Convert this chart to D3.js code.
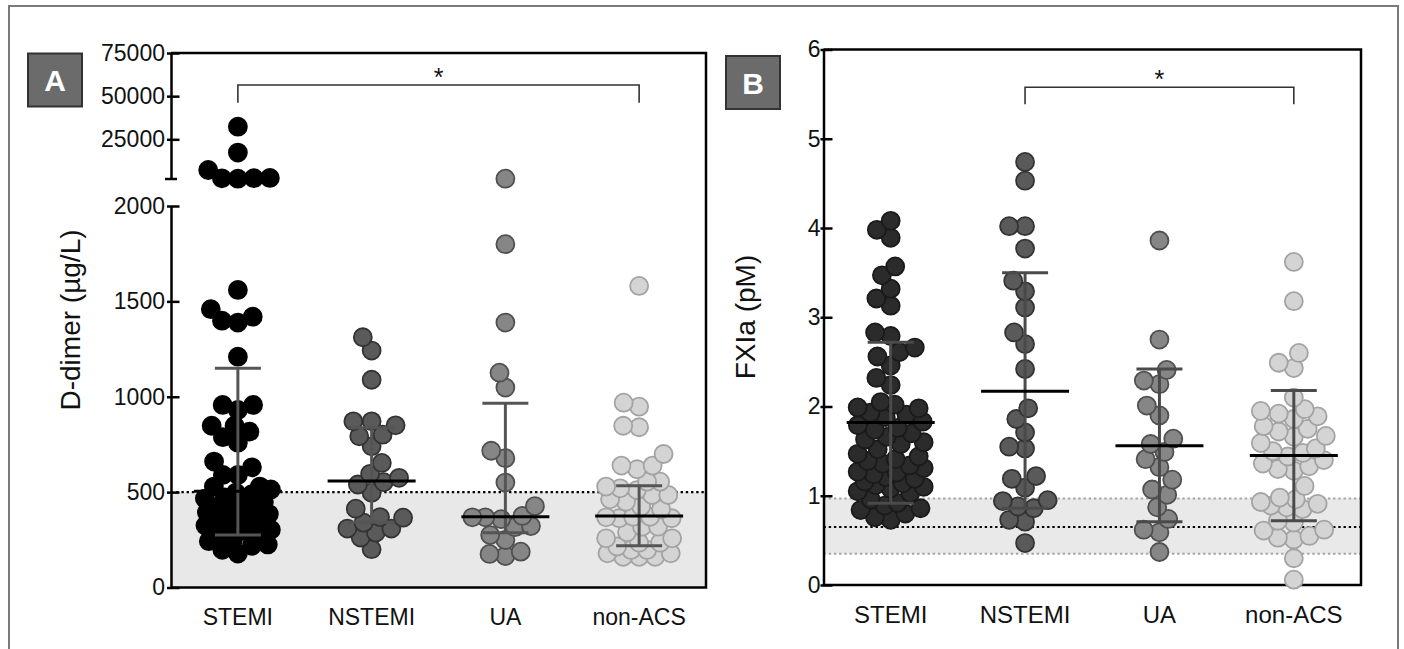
<!DOCTYPE html>
<html>
<head>
<meta charset="utf-8">
<script src="https://cdn.jsdelivr.net/npm/d3@7"></script>
<style>
  body { margin: 0; background: #fff; }
  svg { display: block; font-family: "Liberation Sans", Arial, Helvetica, sans-serif; }
</style>
</head>
<body>
<svg id="chart" width="1404" height="649"></svg>
<script>
// ---- data ----
const groups = ["STEMI", "NSTEMI", "UA", "non-ACS"];

// Panel A: D-dimer (µg/L)
const ddimerSTEMI = [32300, 17300, 7200, 2600, 2500, 2400, 2200,
  1560, 1459, 1420, 1399, 1389, 1210, 957, 957, 931, 848, 848, 817, 788, 759, 660, 630, 590, 590, 529, 529,
  514, 497, 489, 473, 466, 448, 440, 421, 415, 412, 394, 385, 366, 355, 345, 334, 325, 303, 296, 276, 268,
  250, 243, 226, 219, 198, 178];
const ddimerNSTEMI = [1312, 1242, 1089, 871, 871, 850, 801, 793, 740, 653, 596, 575, 552, 540, 497,
  413, 369, 366, 340, 309, 309, 288, 262, 201];
const ddimerUA = [2200, 1800, 1389, 1126, 1048, 717, 678, 550, 427, 375, 368, 368, 358, 322, 316, 275,
  249, 188, 176, 165];
const ddimerNonACS = [1581, 969, 948, 848, 840, 700, 639, 639, 620, 555, 555, 529, 520, 511, 485, 485,
  462, 450, 424, 410, 371, 371, 368, 363, 363, 319, 319, 290, 258, 258, 235, 235, 215, 197, 197, 179,
  179, 161, 161, 161];
const ddimerMedian = [505, 558, 371, 375];
const ddimerQ1 = [275, 342, 287, 219];
const ddimerQ3 = [1149, 838, 966, 534];
const ddimerTicksLow = [0, 500, 1000, 1500, 2000];
const ddimerTicksHigh = [25000, 50000, 75000];
const ddimerCutoff = 500;

// Panel B: FXIa (pM)
const fxiaSTEMI = [4.08, 3.98, 3.89, 3.57, 3.47, 3.32, 3.21, 3.13, 2.83, 2.79, 2.66, 2.61, 2.56, 2.46,
  2.32, 2.24, 2.05, 2.02, 1.99, 1.98, 1.93, 1.91, 1.88, 1.83, 1.79, 1.76, 1.74, 1.70, 1.66, 1.63, 1.60,
  1.58, 1.52, 1.47, 1.44, 1.41, 1.39, 1.36, 1.34, 1.31, 1.27, 1.26, 1.24, 1.21, 1.19, 1.16, 1.14, 1.12,
  1.10, 1.08, 1.05, 1.03, 0.96, 0.92, 0.89, 0.86, 0.84, 0.80, 0.76, 0.73];
const fxiaNSTEMI = [4.74, 4.53, 4.02, 4.02, 3.77, 3.41, 3.29, 3.11, 2.83, 2.70, 2.42, 1.98, 1.86, 1.71,
  1.55, 1.53, 1.22, 1.19, 1.09, 0.95, 0.94, 0.88, 0.86, 0.73, 0.71, 0.47];
const fxiaUA = [3.86, 2.75, 2.41, 2.29, 2.25, 2.01, 1.90, 1.64, 1.58, 1.49, 1.41, 1.32, 1.18, 1.07,
  1.01, 0.87, 0.74, 0.62, 0.59, 0.37];
const fxiaNonACS = [3.62, 3.18, 2.60, 2.49, 2.43, 2.10, 1.97, 1.95, 1.92, 1.89, 1.86, 1.78, 1.75, 1.72,
  1.67, 1.66, 1.59, 1.53, 1.50, 1.48, 1.44, 1.40, 1.36, 1.33, 1.30, 1.28, 1.11, 0.98, 0.96, 0.93, 0.91,
  0.89, 0.87, 0.85, 0.72, 0.70, 0.62, 0.61, 0.55, 0.53, 0.51, 0.30, 0.06];
const fxiaMean = [1.82, 2.17, 1.56, 1.45];
const fxiaLow = [0.915, 0.86, 0.71, 0.72];
const fxiaHigh = [2.72, 3.50, 2.42, 2.18];
const fxiaTicks = [0, 1, 2, 3, 4, 5, 6];
const fxiaRefRange = [0.35, 0.97];
const fxiaRefMid = 0.65;

const dotFill = ["#000000", "#5a5a5a", "#868686", "#d4d4d4"];
const dotStroke = ["#000000", "#333333", "#505050", "#a3a3a3"];
const dotFillB = ["#2b2b2b", "#5a5a5a", "#868686", "#d4d4d4"];
const dotStrokeB = ["#1a1a1a", "#333333", "#505050", "#a3a3a3"];

const svg = d3.select("#chart");

// outer figure frame
svg.append("rect")
  .attr("x", 9).attr("y", 6).attr("width", 1389).attr("height", 720)
  .attr("fill", "none").attr("stroke", "#7a7a7a").attr("stroke-width", 2);

// beeswarm: each point goes as close to the centre as it can without overlap,
// but never wider than maxHalf; when crowded it takes the least-overlapping spot
function swarm(values, yFn, cx, dist, maxHalf) {
  const pts = values.map(v => ({ v, y: yFn(v) })).sort((a, b) => b.y - a.y);
  const placed = [];
  pts.forEach(p => {
    const near = placed.filter(q => Math.abs(q.y - p.y) < dist);
    const clear = c => near.every(q => (q.dx - c) ** 2 + (q.y - p.y) ** 2 >= dist * dist - 0.01);
    const cands = [0];
    near.forEach(q => {
      const dx = Math.sqrt(dist * dist - (q.y - p.y) ** 2);
      cands.push(q.dx - dx, q.dx + dx);
    });
    cands.sort((a, b) => Math.abs(a) - Math.abs(b));
    let dx = cands.find(c => Math.abs(c) <= maxHalf + 0.01 && clear(c));
    if (dx === undefined) {
      let best = -1;
      for (let c = -maxHalf; c <= maxHalf; c += 1) {
        const m = d3.min(near, q => Math.hypot(q.dx - c, q.y - p.y));
        if (m > best + 1e-6 || (Math.abs(m - best) < 1e-6 && Math.abs(c) < Math.abs(dx))) { best = m; dx = c; }
      }
    }
    p.dx = dx;
    placed.push(p);
  });
  return pts.map(p => ({ v: p.v, y: p.y, x: cx + p.dx }));
}

function panelLabel(x, y, letter) {
  svg.append("rect").attr("x", x).attr("y", y).attr("width", 54).attr("height", 53)
    .attr("fill", "#6b6b6b").attr("stroke", "#333").attr("stroke-width", 2);
  svg.append("text").attr("x", x + 27).attr("y", y + 27)
    .attr("text-anchor", "middle").attr("dominant-baseline", "central")
    .attr("font-size", 30).attr("font-weight", "bold").attr("fill", "#fff").text(letter);
}

function styleAxis(g, outward) {
  g.select(".domain").attr("stroke", "#000").attr("stroke-width", 2.5);
  g.selectAll(".tick line").attr("stroke", "#000").attr("stroke-width", 2.5).attr("x1", -outward);
  g.selectAll(".tick text").attr("font-size", 23).attr("fill", "#111").attr("font-family", null);
}

function drawDots(data, yFn, xc, fills, strokes) {
  data.forEach((vals, i) => {
    const pts = swarm(vals, yFn, xc(groups[i]), 16, 33);
    svg.append("g").selectAll("circle").data(pts).enter().append("circle")
      .attr("cx", d => d.x).attr("cy", d => d.y).attr("r", 9)
      .attr("fill", fills[i]).attr("stroke", strokes[i]).attr("stroke-width", 1.8);
  });
}

function drawBars(xc, yFn, mid, lo, hi, whisker) {
  groups.forEach((g, i) => {
    const cx = xc(g);
    const grp = svg.append("g").attr("stroke", whisker).attr("stroke-width", 3);
    grp.append("line").attr("x1", cx).attr("x2", cx).attr("y1", yFn(lo[i])).attr("y2", yFn(hi[i]));
    [lo[i], hi[i]].forEach(v => {
      grp.append("line").attr("x1", cx - 23).attr("x2", cx + 23).attr("y1", yFn(v)).attr("y2", yFn(v));
    });
    svg.append("line").attr("x1", cx - 44).attr("x2", cx + 44)
      .attr("y1", yFn(mid[i])).attr("y2", yFn(mid[i]))
      .attr("stroke", "#000").attr("stroke-width", 3);
  });
}

function bracket(x1, x2, yTop, yEnd) {
  svg.append("path")
    .attr("d", `M${x1},${yEnd}V${yTop}H${x2}V${yEnd}`)
    .attr("fill", "none").attr("stroke", "#333").attr("stroke-width", 1.6);
  svg.append("text").attr("x", (x1 + x2) / 2).attr("y", yTop + 1)
    .attr("text-anchor", "middle").attr("font-size", 25).attr("fill", "#111").text("*");
}

// ================= Panel A =================
const xA = d3.scaleBand().domain(groups).range([171, 706]);
const xcA = g => xA(g) + xA.bandwidth() / 2;
const yLow = d3.scaleLinear().domain([0, 2000]).range([587.5, 206]);
const yHigh = d3.scaleLinear().domain([2000, 75000]).range([179, 53]);
const yA = v => (v <= 2000 ? yLow(v) : yHigh(v));

// reference area below cut-off
svg.append("rect").attr("x", 171).attr("y", yLow(ddimerCutoff))
  .attr("width", 706 - 171).attr("height", yLow(0) - yLow(ddimerCutoff)).attr("fill", "#e8e8e8");
svg.append("line").attr("x1", 171).attr("x2", 706)
  .attr("y1", yLow(ddimerCutoff)).attr("y2", yLow(ddimerCutoff))
  .attr("stroke", "#000").attr("stroke-width", 2.2).attr("stroke-dasharray", "2.4,2.8");

// box
svg.append("path").attr("d", `M171,${yHigh(75000)}H706V${yLow(0)}H171`)
  .attr("fill", "none").attr("stroke", "#000").attr("stroke-width", 2.5);

const axLow = svg.append("g").attr("transform", "translate(171,0)")
  .call(d3.axisLeft(yLow).tickValues(ddimerTicksLow).tickSizeInner(-8.5).tickSizeOuter(0).tickPadding(6)
    .tickFormat(d3.format("d")));
styleAxis(axLow, 4);
const axHigh = svg.append("g").attr("transform", "translate(171,0)")
  .call(d3.axisLeft(yHigh).tickValues(ddimerTicksHigh).tickSizeInner(-8.5).tickSizeOuter(0).tickPadding(6)
    .tickFormat(d3.format("d")));
styleAxis(axHigh, 4);
// break cap at the bottom of the upper segment
svg.append("line").attr("x1", 165).attr("x2", 177).attr("y1", yHigh(2000)).attr("y2", yHigh(2000))
  .attr("stroke", "#000").attr("stroke-width", 2.5);

drawDots([ddimerSTEMI, ddimerNSTEMI, ddimerUA, ddimerNonACS], yA, xcA, dotFill, dotStroke);
drawBars(xcA, yA, ddimerMedian, ddimerQ1, ddimerQ3, "#555");

svg.append("g").selectAll("text").data(groups).enter().append("text")
  .attr("x", d => xcA(d)).attr("y", 625).attr("text-anchor", "middle")
  .attr("font-size", 23).attr("fill", "#111").text(d => d);

svg.append("text").attr("transform", "translate(70,320) rotate(-90)")
  .attr("text-anchor", "middle").attr("dominant-baseline", "central")
  .attr("font-size", 28).attr("fill", "#111").text("D-dimer (µg/L)");

bracket(xcA("STEMI"), xcA("non-ACS"), 85, 102.7);
panelLabel(28, 53.5, "A");

// ================= Panel B =================
const xB = d3.scaleBand().domain(groups).range([823.5, 1361]);
const xcB = g => xB(g) + xB.bandwidth() / 2;
const yB = d3.scaleLinear().domain([0, 6]).range([585, 49.5]);

svg.append("rect").attr("x", 823.5).attr("y", yB(fxiaRefRange[1]))
  .attr("width", 1361 - 823.5).attr("height", yB(fxiaRefRange[0]) - yB(fxiaRefRange[1]))
  .attr("fill", "#e9e9e9");
fxiaRefRange.forEach(v => {
  svg.append("line").attr("x1", 823.5).attr("x2", 1361).attr("y1", yB(v)).attr("y2", yB(v))
    .attr("stroke", "#a5a5a5").attr("stroke-width", 2).attr("stroke-dasharray", "2.4,2.8");
});
svg.append("line").attr("x1", 823.5).attr("x2", 1361).attr("y1", yB(fxiaRefMid)).attr("y2", yB(fxiaRefMid))
  .attr("stroke", "#000").attr("stroke-width", 2.2).attr("stroke-dasharray", "2.4,2.8");

svg.append("path").attr("d", `M823.5,${yB(6)}H1361V${yB(0)}H823.5`)
  .attr("fill", "none").attr("stroke", "#000").attr("stroke-width", 2.5);

const axB = svg.append("g").attr("transform", "translate(823.5,0)")
  .call(d3.axisLeft(yB).tickValues(fxiaTicks).tickSizeInner(-9).tickSizeOuter(0).tickPadding(3)
    .tickFormat(d3.format("d")));
styleAxis(axB, 3);

drawDots([fxiaSTEMI, fxiaNSTEMI, fxiaUA, fxiaNonACS], yB, xcB, dotFillB, dotStrokeB);
drawBars(xcB, yB, fxiaMean, fxiaLow, fxiaHigh, "#4a4a4a");

svg.append("g").selectAll("text").data(groups).enter().append("text")
  .attr("x", d => xcB(d)).attr("y", 623).attr("text-anchor", "middle")
  .attr("font-size", 24).attr("fill", "#111").text(d => d);

svg.append("text").attr("transform", "translate(745,317) rotate(-90)")
  .attr("text-anchor", "middle").attr("dominant-baseline", "central")
  .attr("font-size", 28).attr("fill", "#111").text("FXIa (pM)");

bracket(xcB("NSTEMI"), xcB("non-ACS"), 87.3, 104.3);
panelLabel(726, 56, "B");
</script>
</body>
</html>
